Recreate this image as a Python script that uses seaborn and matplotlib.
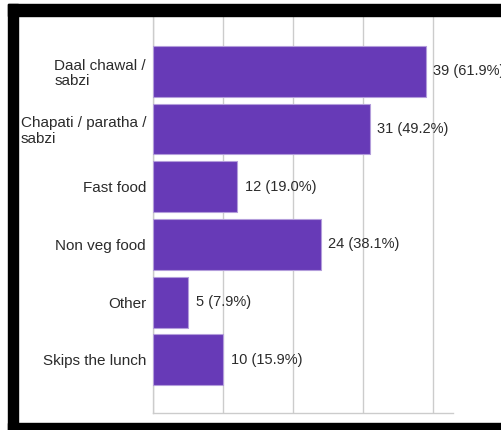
import matplotlib
matplotlib.use('Agg')
import matplotlib.pyplot as plt
from matplotlib.patches import Rectangle
import seaborn as sns

# datos
categorias = ['Daal chawal /\nsabzi', 'Chapati / paratha /\nsabzi', 'Fast food',
              'Non veg food', 'Other', 'Skips the lunch']
respuestas = [39, 31, 12, 24, 5, 10]
porcentajes = [61.9, 49.2, 19.0, 38.1, 7.9, 15.9]
ticks_x = [0, 10, 20, 30, 40]

sns.set_style('white')
plt.rcParams['font.family'] = ['Liberation Sans', 'DejaVu Sans']

W, H = 502, 430
fig = plt.figure(figsize=(W / 100, H / 100), dpi=100)
ax = fig.add_axes([153 / W, 17 / H, 300 / W, 396 / H])

sns.barplot(x=respuestas, y=categorias, orient='h', color='#673AB7', saturation=1,
            width=0.88, edgecolor='#b39ddb', linewidth=0.8, ax=ax, zorder=3)

ax.set_xlim(0, 42.9)
ax.set_ylim(5.92, -0.94)
ax.set_xticks(ticks_x)
ax.set_xticklabels([])
ax.grid(axis='x', color='#cccccc', linewidth=1, zorder=0)
ax.tick_params(axis='both', length=0)
ax.tick_params(axis='y', pad=5, labelsize=11, labelcolor='#2b2b2b')
for lbl in ax.get_yticklabels():
    lbl.set_multialignment('left')
    lbl.set_linespacing(1.15)
ax.set_xlabel('')
ax.set_ylabel('')

for s in ['top', 'right']:
    ax.spines[s].set_visible(False)
for s in ['left', 'bottom']:
    ax.spines[s].set_color('#cccccc')
    ax.spines[s].set_linewidth(1)

for i, (v, p) in enumerate(zip(respuestas, porcentajes)):
    ax.annotate(f'{v} ({p:.1f}%)', xy=(v, i), xytext=(5.5, 0), textcoords='offset points',
                va='center', ha='left', fontsize=10.5, color='#2b2b2b', annotation_clip=False)

# marco negro de la captura
negro = dict(color='black', transform=fig.transFigure, zorder=10)
fig.add_artist(Rectangle((8 / W, (H - 16) / H), 1 - 8 / W, 12 / H, **negro))
fig.add_artist(Rectangle((8 / W, 0), 10 / W, (H - 4) / H, **negro))
fig.add_artist(Rectangle((8 / W, 0), 1, 7 / H, **negro))

fig.savefig('out.png', dpi=100)
